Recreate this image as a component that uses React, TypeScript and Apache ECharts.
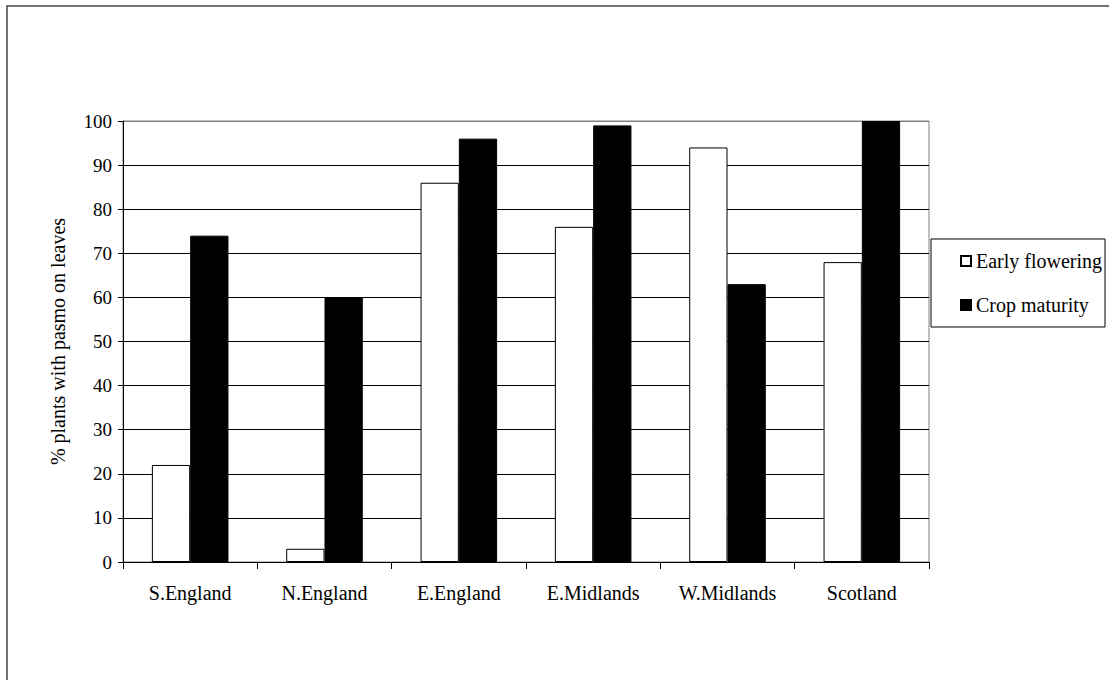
import React, { useEffect, useRef } from "react";
import * as echarts from "echarts";

const categories = ["S.England", "N.England", "E.England", "E.Midlands", "W.Midlands", "Scotland"];
const earlyFlowering = [22, 3, 86, 76, 94, 68];
const cropMaturity = [74, 60, 96, 99, 63, 100];
const seriesNames = ["Early flowering", "Crop maturity"];
const yAxisTitle = "% plants with pasmo on leaves";

const FONT = "Liberation Serif, Times New Roman, serif";

export default function App() {
  const ref = useRef<HTMLDivElement>(null);

  useEffect(() => {
    if (!ref.current) return;
    const chart = echarts.init(ref.current, null, { renderer: "svg" });
    const splitColors = Array.from({ length: 11 }, (_, i) => (i === 10 ? "#808080" : "#000000"));
    chart.setOption({
      animation: false,
      backgroundColor: "#ffffff",
      textStyle: { fontFamily: FONT, color: "#000" },
      grid: {
        left: 123,
        right: 180,
        top: 121,
        bottom: 118,
        show: true,
        borderColor: "#808080",
        borderWidth: 1,
        backgroundColor: "transparent",
      },
      xAxis: {
        type: "category",
        data: categories,
        axisLine: { show: true, lineStyle: { color: "#000", width: 1 } },
        axisTick: { show: true, length: 7, lineStyle: { color: "#000" }, alignWithLabel: false },
        axisLabel: { fontFamily: FONT, fontSize: 20, color: "#000", margin: 21 },
        splitLine: { show: false },
      },
      yAxis: {
        type: "value",
        min: 0,
        max: 100,
        interval: 10,
        name: yAxisTitle,
        nameLocation: "middle",
        nameGap: 55,
        nameTextStyle: { fontFamily: FONT, fontSize: 20, color: "#000" },
        axisLine: { show: true, lineStyle: { color: "#000", width: 1 } },
        axisTick: { show: true, length: 5, lineStyle: { color: "#000" } },
        axisLabel: { fontFamily: FONT, fontSize: 19, color: "#000", margin: 11 },
        splitLine: { show: true, lineStyle: { color: splitColors, width: 1 } },
      },
      legend: {
        data: seriesNames,
        orient: "vertical",
        left: 960,
        top: 251,
        padding: 0,
        itemGap: 24,
        itemWidth: 10,
        itemHeight: 10,
        icon: "rect",
        textStyle: { fontFamily: FONT, fontSize: 20, color: "#000", lineHeight: 20 },
      },
      graphic: [
        {
          type: "rect",
          shape: { x: 931, y: 239, width: 174, height: 88 },
          style: { fill: "none", stroke: "#000", lineWidth: 1 },
          silent: true,
        },
        {
          type: "rect",
          shape: { x: 7, y: 6, width: 1300, height: 900 },
          style: { fill: "none", stroke: "#444", lineWidth: 1.5 },
          silent: true,
        },
      ],
      series: [
        {
          name: seriesNames[0],
          type: "bar",
          data: earlyFlowering,
          barGap: "0%",
          barCategoryGap: "43%",
          itemStyle: { color: "#ffffff", borderColor: "#000", borderWidth: 1 },
        },
        {
          name: seriesNames[1],
          type: "bar",
          data: cropMaturity,
          barGap: "0%",
          barCategoryGap: "43%",
          itemStyle: { color: "#000000", borderColor: "#000", borderWidth: 1 },
        },
      ],
    });
    return () => chart.dispose();
  }, []);

  return (
    <div
      ref={ref}
      style={{ position: "fixed", left: 0, top: 0, width: 1109, height: 680, background: "#fff" }}
    />
  );
}
